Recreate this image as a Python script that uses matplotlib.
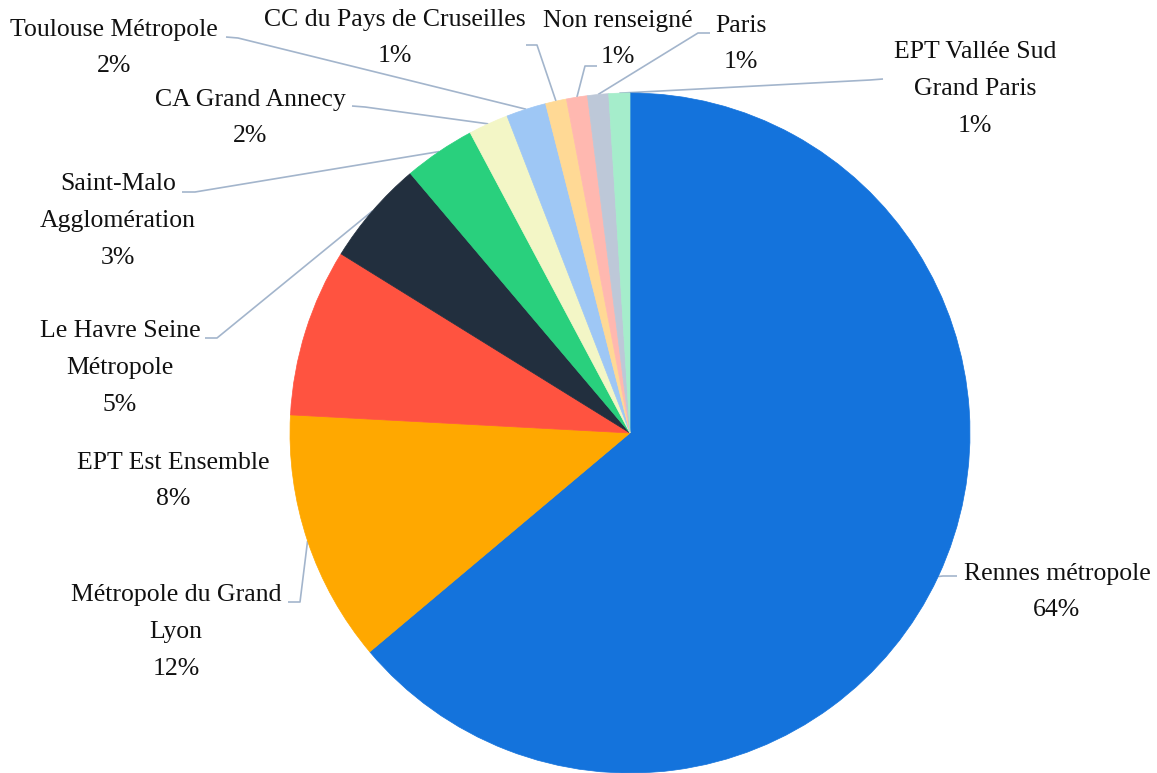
import numpy as np
import matplotlib
matplotlib.use("Agg")
import matplotlib.pyplot as plt

# share of each collectivity (%)
labels = ["Rennes métropole", "Métropole du Grand Lyon", "EPT Est Ensemble",
          "Le Havre Seine Métropole", "Saint-Malo Agglomération", "CA Grand Annecy",
          "Toulouse Métropole", "CC du Pays de Cruseilles", "Non renseigné",
          "Paris", "EPT Vallée Sud Grand Paris"]
values = [64.0, 12.0, 8.0, 5.0, 3.4, 1.9, 1.9, 1.0, 1.0, 1.0, 1.0]
pct_text = ["64%", "12%", "8%", "5%", "3%", "2%", "2%", "1%", "1%", "1%", "1%"]
colors = ["#1473DC", "#FFA800", "#FF5340", "#222F3E", "#29D07D", "#F3F6C6",
          "#9EC7F5", "#FFD995", "#FFB8B0", "#BDC8D8", "#A5EDCB"]

W, H = 1157, 773
CX, CY, R = 630, 433, 340   # pie centre / radius in pixels (y from top)

# label layout: wrapped text, centre of text block (px, y from top), leader elbow + end (None = no leader)
layout = [
    ("Rennes métropole\n{}", (1057, 592), [(943, 576), (957, 576)]),
    ("Métropole du Grand\nLyon\n{}", (176, 632), [(300, 602), (288, 602)]),
    ("EPT Est Ensemble\n{}", (173, 481), None),
    ("Le Havre Seine\nMétropole\n{}", (120, 368), [(217, 338), (205, 338)]),
    ("Saint-Malo\nAgglomération\n{}", (118, 221), [(195, 192), (182, 192)]),
    ("CA Grand Annecy\n{}", (250, 118), [(365, 107), (352, 106)]),
    ("Toulouse Métropole\n{}", (114, 48), [(238, 38), (226, 37)]),
    ("CC du Pays de Cruseilles\n{}", (395, 38), [(537, 45), (526, 45)]),
    ("Non renseigné\n{}", (618, 39), [(585, 66), (597, 66)]),
    ("Paris\n{}", (741, 44), [(698, 33), (710, 33)]),
    ("EPT Vallée Sud\nGrand Paris\n{}", (975, 89), [(870, 80), (883, 79)]),
]

fig = plt.figure(figsize=(W / 100, H / 100), dpi=100)
ax = fig.add_axes([0, 0, 1, 1])

wedges, _ = ax.pie(values, colors=colors, startangle=90, counterclock=False,
                   center=(CX, H - CY), radius=R)
for w in wedges:
    w.set_edgecolor(w.get_facecolor())
    w.set_linewidth(0.5)

for w, (fmt, (tx, ty), leader), pct in zip(wedges, layout, pct_text):
    ax.text(tx, H - ty, fmt.format(pct), ha="center", va="center",
            multialignment="center", fontsize=18.5, linespacing=1.86,
            family=["Liberation Serif", "DejaVu Serif"], color="#111111")
    if leader is None:
        continue
    mid = np.deg2rad((w.theta1 + w.theta2) / 2)
    px = [CX + R * np.cos(mid)] + [p[0] for p in leader]
    py = [(H - CY) + R * np.sin(mid)] + [H - p[1] for p in leader]
    ax.plot(px, py, color="#A3B5CC", lw=1.2, solid_capstyle="butt", zorder=0.5)

ax.set_xlim(0, W)
ax.set_ylim(0, H)
ax.set_aspect("equal")
ax.axis("off")

fig.savefig("out.png", dpi=100)
